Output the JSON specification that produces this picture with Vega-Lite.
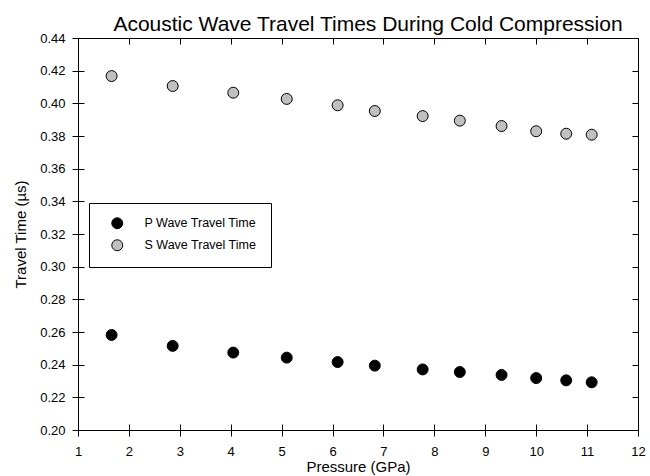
{
  "$schema": "https://vega.github.io/schema/vega-lite/v6.json",
  "width": 560,
  "height": 392,
  "autosize": "none",
  "padding": {"left": 78, "top": 38, "right": 12, "bottom": 46},
  "background": "white",
  "title": {
    "text": "Acoustic Wave Travel Times During Cold Compression",
    "font": "Liberation Sans",
    "fontSize": 21,
    "fontWeight": "normal",
    "color": "black",
    "anchor": "middle",
    "baseline": "alphabetic",
    "offset": 8,
    "dy": 28,
    "dx": 10
  },
  "config": {
    "view": {"stroke": null},
    "axis": {
      "grid": false,
      "domainColor": "black",
      "tickColor": "black",
      "labelColor": "black",
      "titleColor": "black",
      "labelFont": "Liberation Sans",
      "titleFont": "Liberation Sans",
      "labelFontSize": 13,
      "titleFontSize": 15,
      "titleFontWeight": "normal"
    }
  },
  "data": {
    "values": [
      {"pressure": 1.66, "time": 0.2582, "series": "P Wave Travel Time"},
      {"pressure": 2.86, "time": 0.2515, "series": "P Wave Travel Time"},
      {"pressure": 4.05, "time": 0.2474, "series": "P Wave Travel Time"},
      {"pressure": 5.10, "time": 0.2443, "series": "P Wave Travel Time"},
      {"pressure": 6.10, "time": 0.2416, "series": "P Wave Travel Time"},
      {"pressure": 6.83, "time": 0.2394, "series": "P Wave Travel Time"},
      {"pressure": 7.77, "time": 0.2371, "series": "P Wave Travel Time"},
      {"pressure": 8.50, "time": 0.2355, "series": "P Wave Travel Time"},
      {"pressure": 9.32, "time": 0.2337, "series": "P Wave Travel Time"},
      {"pressure": 10.00, "time": 0.2318, "series": "P Wave Travel Time"},
      {"pressure": 10.59, "time": 0.2304, "series": "P Wave Travel Time"},
      {"pressure": 11.09, "time": 0.2292, "series": "P Wave Travel Time"},
      {"pressure": 1.66, "time": 0.4167, "series": "S Wave Travel Time"},
      {"pressure": 2.86, "time": 0.4106, "series": "S Wave Travel Time"},
      {"pressure": 4.05, "time": 0.4065, "series": "S Wave Travel Time"},
      {"pressure": 5.10, "time": 0.4027, "series": "S Wave Travel Time"},
      {"pressure": 6.10, "time": 0.3988, "series": "S Wave Travel Time"},
      {"pressure": 6.83, "time": 0.3953, "series": "S Wave Travel Time"},
      {"pressure": 7.77, "time": 0.3922, "series": "S Wave Travel Time"},
      {"pressure": 8.50, "time": 0.3894, "series": "S Wave Travel Time"},
      {"pressure": 9.32, "time": 0.3861, "series": "S Wave Travel Time"},
      {"pressure": 10.00, "time": 0.3829, "series": "S Wave Travel Time"},
      {"pressure": 10.59, "time": 0.3814, "series": "S Wave Travel Time"},
      {"pressure": 11.09, "time": 0.3808, "series": "S Wave Travel Time"}
    ]
  },
  "layer": [
    {
      "mark": {"type": "circle", "size": 120, "stroke": "black", "strokeWidth": 1, "opacity": 1},
      "encoding": {
        "x": {
          "field": "pressure", "type": "quantitative",
          "scale": {"domain": [1, 12], "nice": false, "zero": false},
          "axis": {"orient": "bottom", "title": "Pressure (GPa)", "values": [1,2,3,4,5,6,7,8,9,10,11,12], "tickSize": 6, "labelPadding": 9, "titlePadding": 1, "labelFlush": false}
        },
        "y": {
          "field": "time", "type": "quantitative",
          "scale": {"domain": [0.2, 0.44], "nice": false, "zero": false},
          "axis": {"orient": "left", "title": "Travel Time (µs)", "values": [0.2,0.22,0.24,0.26,0.28,0.3,0.32,0.34,0.36,0.38,0.4,0.42,0.44], "format": ".2f", "tickSize": 6, "labelPadding": 7, "titlePadding": 11, "labelFlush": false}
        },
        "color": {
          "field": "series", "type": "nominal",
          "scale": {"domain": ["P Wave Travel Time", "S Wave Travel Time"], "range": ["black", "#c0c0c0"]},
          "legend": {
            "title": null,
            "orient": "none",
            "legendX": 11,
            "legendY": 165,
            "strokeColor": "black",
            "fillColor": "white",
            "padding": 14,
            "symbolType": "circle",
            "symbolSize": 120,
            "symbolStrokeColor": "black",
            "symbolStrokeWidth": 1,
            "symbolOpacity": 1,
            "symbolOffset": 8,
            "labelOffset": 21,
            "rowPadding": 6,
            "labelFont": "Liberation Sans",
            "labelFontSize": 12.5,
            "labelColor": "black",
            "labelLimit": 300
          }
        }
      }
    },
    {
      "mark": {"type": "circle", "opacity": 0},
      "encoding": {
        "x": {"field": "pressure", "type": "quantitative",
          "axis": {"orient": "bottom", "title": null, "labels": false, "values": [1,2,3,4,5,6,7,8,9,10,11,12], "tickSize": -6}},
        "y": {"field": "time", "type": "quantitative",
          "axis": {"orient": "left", "title": null, "labels": false, "values": [0.2,0.22,0.24,0.26,0.28,0.3,0.32,0.34,0.36,0.38,0.4,0.42,0.44], "tickSize": -6}}
      }
    },
    {
      "mark": {"type": "circle", "opacity": 0},
      "encoding": {
        "x": {"field": "pressure", "type": "quantitative",
          "axis": {"orient": "top", "title": null, "labels": false, "values": [1,2,3,4,5,6,7,8,9,10,11,12], "tickSize": -6}},
        "y": {"field": "time", "type": "quantitative",
          "axis": {"orient": "right", "title": null, "labels": false, "values": [0.2,0.22,0.24,0.26,0.28,0.3,0.32,0.34,0.36,0.38,0.4,0.42,0.44], "tickSize": -6}}
      }
    }
  ],
  "resolve": {"axis": {"x": "independent", "y": "independent"}}
}
